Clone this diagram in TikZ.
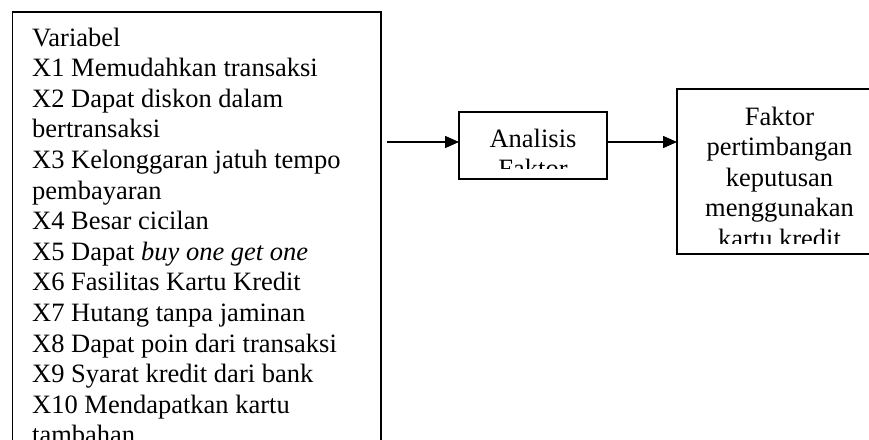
\documentclass[tikz,border=0pt]{standalone}
\usepackage{fontspec}
\setmainfont{Liberation Serif}
\usetikzlibrary{positioning,arrows.meta}

\begin{document}
\begin{tikzpicture}[
        x=1pt, y=-1pt,
        box/.style={
                draw=black,
                line width=1.6pt,
                inner sep=0pt,
                outer sep=0pt
            },
        words/.style={font=\fontsize{26.5}{30.6}\selectfont, inner sep=0pt},
        >={Triangle[length=14pt,width=12pt]},
        flow/.style={->, line width=1.6pt}
    ]
    \clip[use as bounding box] (0,0) rectangle (869,439);

    \node[box, anchor=north west, minimum width=368.5pt, minimum height=470pt] (var) at (12.5,12) {};
    \node[box, anchor=north west, minimum width=148pt, minimum height=67pt] (ana) at (459,112) {};
    \node[box, minimum width=205pt, minimum height=165pt, right=70pt of ana, yshift=-26pt] (res) {};

    % texts, cut off at the lower margin of each box (base = last line)
    \begin{scope}
        \clip (var.north west) rectangle (var.south east);
        \node[words, anchor=base west, align=left] (vartext) at (32,443.8)
        {Variabel\\X1 Memudahkan transaksi\\X2 Dapat diskon dalam\\bertransaksi\\X3 Kelonggaran jatuh tempo\\pembayaran\\X4 Besar cicilan\\X5 Dapat \textit{buy one get one}\\X6 Fasilitas Kartu Kredit\\X7 Hutang tanpa jaminan\\X8 Dapat poin dari transaksi\\X9 Syarat kredit dari bank\\X10 Mendapatkan kartu\\tambahan};
    \end{scope}
    \begin{scope}
        \clip (ana.north west) rectangle ([yshift=11pt]ana.south east);
        \node[words, anchor=base, align=center] (anatext) at (533,177.6) {Analisis\\Faktor};
    \end{scope}
    \begin{scope}
        \clip (res.north west) rectangle ([yshift=11pt]res.south east);
        \node[words, anchor=base, align=center] (restext) at (779.5,247.4) {Faktor\\pertimbangan\\keputusan\\menggunakan\\kartu kredit};
    \end{scope}

    \coordinate (src) at (387,142);
    \draw[flow] (src) -- (src -| ana.west);
    \draw[flow] (src -| ana.east) -- (src -| res.west);
\end{tikzpicture}
\end{document}
